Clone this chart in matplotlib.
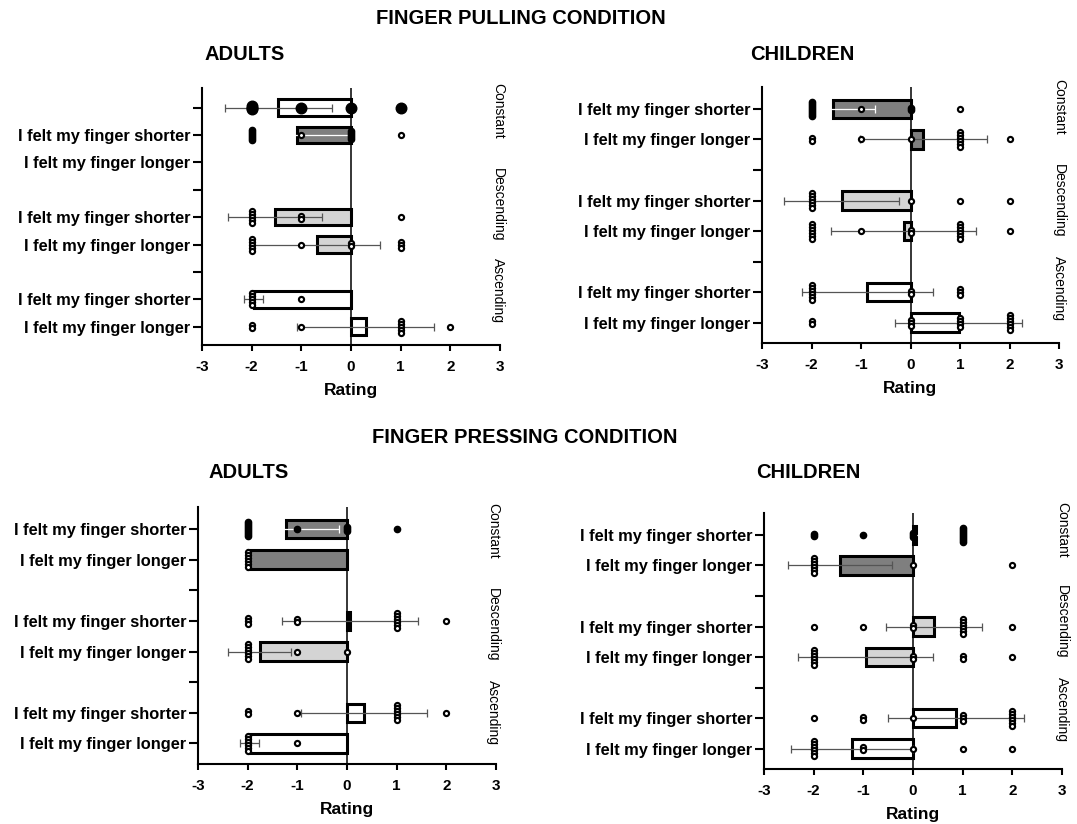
import matplotlib
matplotlib.use("Agg")
import matplotlib.pyplot as plt

plt.rcParams['font.family'] = ['Liberation Sans', 'DejaVu Sans']

SHORT = "I felt my finger shorter"
LONG = "I felt my finger longer"
GROUPS = ["Constant", "Descending", "Ascending"]

# ---- finger pulling, adults (odd Prism layout: extra unlabeled row on top)
tl_labels = ["", SHORT, LONG, "", SHORT, LONG, "", SHORT, LONG]
tl_means = [-1.46, -1.09, None, None, -1.53, -0.69, None, -1.96, 0.30]
tl_sd = [1.08, 1.05, None, None, 0.94, 1.27, None, 0.19, 1.38]
tl_points = [[(-2, 3), (-1, 1), (0, 1), (1, 1)],
             [(-2, 6), (-1, 1), (0, 5), (1, 1)],
             [], [],
             [(-2, 5), (-1, 2), (1, 1)],
             [(-2, 5), (-1, 1), (0, 2), (1, 3)],
             [],
             [(-2, 5), (-1, 1)],
             [(-2, 2), (-1, 1), (1, 5), (2, 1)]]

# ---- finger pulling, children
tr_labels = [SHORT, LONG, "", SHORT, LONG, "", SHORT, LONG]
tr_means = [-1.56, 0.26, None, -1.39, -0.14, None, -0.87, 0.97]
tr_sd = [0.84, 1.28, None, 1.16, 1.46, None, 1.33, 1.28]
tr_points = [[(-2, 8), (-1, 1), (0, 2), (1, 1)],
             [(-2, 2), (-1, 1), (0, 1), (1, 6), (2, 1)],
             [],
             [(-2, 6), (0, 1), (1, 1), (2, 1)],
             [(-2, 6), (-1, 1), (0, 2), (1, 6), (2, 1)],
             [],
             [(-2, 6), (0, 2), (1, 3)],
             [(-2, 2), (0, 3), (1, 4), (2, 6)]]

# ---- finger pressing, adults
bl_labels = [SHORT, LONG, "", SHORT, LONG, "", SHORT, LONG]
bl_means = [-1.23, -1.99, None, 0.06, -1.76, None, 0.35, -1.96]
bl_sd = [1.06, 0.0, None, 1.36, 0.63, None, 1.27, 0.19]
bl_points = [[(-2, 8), (-1, 1), (0, 3), (1, 1)],
             [(-2, 6)],
             [],
             [(-2, 3), (-1, 2), (1, 6), (2, 1)],
             [(-2, 6), (-1, 1), (0, 1)],
             [],
             [(-2, 2), (-1, 1), (1, 6), (2, 1)],
             [(-2, 6), (-1, 1)]]

# ---- finger pressing, children
br_labels = [SHORT, LONG, "", SHORT, LONG, "", SHORT, LONG]
br_means = [0.07, -1.47, None, 0.42, -0.95, None, 0.87, -1.22]
br_sd = [0.95, 1.04, None, 0.96, 1.36, None, 1.37, 1.23]
br_points = [[(-2, 2), (-1, 1), (0, 3), (1, 8)],
             [(-2, 6), (0, 1), (2, 1)],
             [],
             [(-2, 1), (-1, 1), (0, 2), (1, 6), (2, 1)],
             [(-2, 6), (0, 2), (1, 2), (2, 1)],
             [],
             [(-2, 1), (-1, 2), (0, 1), (1, 3), (2, 6)],
             [(-2, 6), (-1, 2), (0, 1), (1, 1), (2, 1)]]

# ---- styles
DARK, LIGHT, WHITE = '#7f7f7f', '#d4d4d4', 'white'
ERR, ERR_LIGHT = '#555555', 'white'
W, H = 1077, 824

panels = [
    dict(labels=tl_labels, means=tl_means, sd=tl_sd, points=tl_points,
         box=(202, 500, 88, 345),
         fills=[WHITE, DARK, None, None, LIGHT, LIGHT, None, WHITE, WHITE],
         errc=[ERR, ERR_LIGHT, None, None, ERR, ERR, None, ERR, ERR],
         dense=[(1, -2), (1, 0)], big=[0],
         group_y=[0.11, 3.53, 6.69], group_x=2.96),
    dict(labels=tr_labels, means=tr_means, sd=tr_sd, points=tr_points,
         box=(762, 1059, 87, 343),
         fills=[DARK, DARK, None, LIGHT, LIGHT, None, WHITE, WHITE],
         errc=[ERR_LIGHT, ERR, None, ERR, ERR, None, ERR, ERR],
         dense=[(0, -2), (0, 0)], big=[],
         group_y=[-0.08, 3.02, 5.87], group_x=3.0),
    dict(labels=bl_labels, means=bl_means, sd=bl_sd, points=bl_points,
         box=(198, 496, 507, 764),
         fills=[DARK, DARK, None, LIGHT, LIGHT, None, WHITE, WHITE],
         errc=[ERR_LIGHT, ERR, None, ERR, ERR, None, ERR, ERR],
         dense=[(0, -2), (0, -1), (0, 0), (0, 1)], big=[],
         group_y=[0.07, 3.14, 6.0], group_x=2.94),
    dict(labels=br_labels, means=br_means, sd=br_sd, points=br_points,
         box=(764, 1062, 513, 769),
         fills=[DARK, DARK, None, LIGHT, LIGHT, None, WHITE, WHITE],
         errc=[ERR_LIGHT, ERR, None, ERR, ERR, None, ERR, ERR],
         dense=[(0, -2), (0, -1), (0, 0), (0, 1)], big=[],
         group_y=[-0.18, 2.86, 5.72], group_x=3.0),
]

fig = plt.figure(figsize=(W / 100, H / 100), dpi=100)

for p in panels:
    x0, x1, y0, y1 = p['box']
    ax = fig.add_axes([x0 / W, 1 - y1 / H, (x1 - x0) / W, (y1 - y0) / H])
    n = len(p['labels'])
    top, bottom = -0.72, n - 1 + 0.67
    ax.set_xlim(-3, 3)
    ax.set_ylim(bottom, top)
    px_per_unit = (y1 - y0) / (bottom - top)

    for i in range(n):
        m = p['means'][i]
        if m is None:
            continue
        ax.barh(i, m, height=0.6, color=p['fills'][i], edgecolor='black',
                linewidth=2.2, zorder=2)
        if p['sd'][i]:
            ax.errorbar(m, i, xerr=p['sd'][i], fmt='none', ecolor=p['errc'][i],
                        elinewidth=0.9, capsize=3, capthick=0.9, zorder=3)

    ax.axvline(0, color='black', lw=1.1, zorder=2.5)

    for i, row in enumerate(p['points']):
        for val, cnt in row:
            if i in p['big']:
                ms, mew, gap, fc = 7.6, 1.0, 1.5, 'black'
            elif (i, val) in p['dense']:
                ms, mew, gap, fc = 4.5, 1.0, 2.0, 'black'
            else:
                ms, mew, gap, fc = 3.7, 1.55, 3.0, 'white'
            dy = gap / px_per_unit
            ys = [i + (k - (cnt - 1) / 2) * dy for k in range(cnt)]
            ax.plot([val] * cnt, ys, 'o', ms=ms, mfc=fc, mec='black',
                    mew=mew, zorder=4, clip_on=False)

    ax.set_yticks(range(n))
    ax.set_yticklabels(p['labels'], fontweight='bold', fontsize=11.8)
    ax.set_xticks(range(-3, 4))
    ax.set_xticklabels([str(v) for v in range(-3, 4)], fontweight='bold', fontsize=11)
    ax.tick_params(axis='y', length=6.7, width=1.5, pad=1.5)
    ax.tick_params(axis='x', length=4.5, width=1.5, pad=6)
    for s in ['top', 'right']:
        ax.spines[s].set_visible(False)
    for s in ['left', 'bottom']:
        ax.spines[s].set_linewidth(1.5)
    ax.set_xlabel("Rating", fontweight='bold', fontsize=12.5, labelpad=7)

    for g, gy in zip(GROUPS, p['group_y']):
        ax.text(p['group_x'], gy, g, rotation=-90, ha='center', va='center',
                fontsize=10, clip_on=False)

def title(x, y, s):
    fig.text(x / W, 1 - y / H, s, ha='center', va='center',
             fontweight='bold', fontsize=14.5)

title(521, 18, "FINGER PULLING CONDITION")
title(245, 55, "ADULTS")
title(802, 55, "CHILDREN")
title(525, 437, "FINGER PRESSING CONDITION")
title(249, 473, "ADULTS")
title(808, 473, "CHILDREN")

fig.savefig("out.png", dpi=100)
